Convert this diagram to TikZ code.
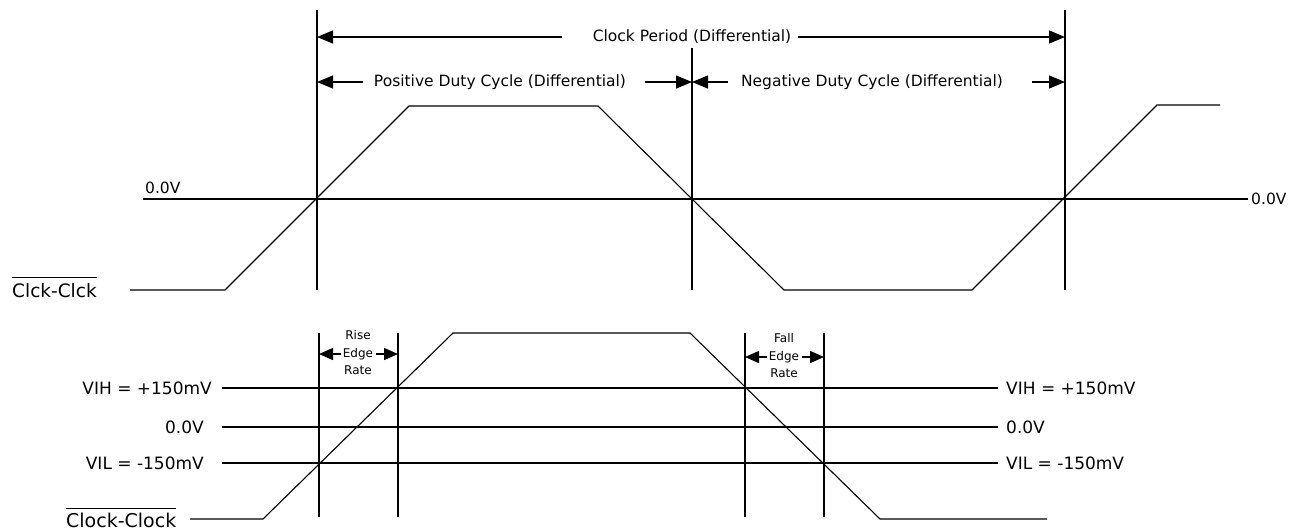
\documentclass[tikz,border=0pt]{standalone}
\usepackage{fontspec}
\setmainfont{DejaVu Sans}
\usetikzlibrary{arrows.meta}
\begin{document}
\begin{tikzpicture}[x=1pt,y=-1pt,
  ln/.style={line width=1.4pt},
  wave/.style={line width=1.1pt, line join=miter},
  arr/.style={line width=1.4pt,-{Triangle[length=16pt,width=13pt]}},
  sarr/.style={line width=1.4pt,-{Triangle[length=14pt,width=12pt]}},
  lbl/.style={inner sep=0pt, font=\fontsize{15.5}{18}\selectfont},
  big/.style={inner sep=0pt, font=\fontsize{17}{20}\selectfont},
  huge/.style={inner sep=0pt, font=\fontsize{18.5}{22}\selectfont},
  tiny/.style={inner sep=0pt, align=center, font=\fontsize{12}{17.5}\selectfont}]
\useasboundingbox (0,0) rectangle (1303,531);

% ---------------- top diagram ----------------
% vertical reference lines
\coordinate (v1t) at (317,10);  \coordinate (v1b) at (317,290);
\coordinate (v2t) at (692,48);  \coordinate (v2b) at (692,290);
\coordinate (v3t) at (1065,10); \coordinate (v3b) at (1065,290);
\draw[ln] (v1t) -- (v1b);
\draw[ln] (v2t) -- (v2b);
\draw[ln] (v3t) -- (v3b);

% clock period
\node[lbl] (cp) at (692,37) {Clock Period (Differential)};
\coordinate (cpL) at (562,37); \coordinate (cpLe) at (317,37);
\coordinate (cpR) at (798,37); \coordinate (cpRe) at (1065,37);
\draw[arr] (cpL) -- (cpLe);
\draw[arr] (cpR) -- (cpRe);

% positive duty cycle
\node[lbl] (pd) at (500,82) {Positive Duty Cycle (Differential)};
\coordinate (pdL) at (363,82); \coordinate (pdLe) at (317,82);
\coordinate (pdR) at (645,82); \coordinate (pdRe) at (692,82);
\draw[arr] (pdL) -- (pdLe);
\draw[arr] (pdR) -- (pdRe);

% negative duty cycle
\node[lbl] (nd) at (872,82) {Negative Duty Cycle (Differential)};
\coordinate (ndL) at (728,82); \coordinate (ndLe) at (692,82);
\coordinate (ndR) at (1032,82); \coordinate (ndRe) at (1065,82);
\draw[arr] (ndL) -- (ndLe);
\draw[arr] (ndR) -- (ndRe);

% zero line
\coordinate (z0) at (143,199); \coordinate (z1) at (1248,199);
\draw[ln] (z0) -- (z1);
\node[lbl, anchor=south west] (zl) at (145,194) {0.0V};
\node[lbl, anchor=west] (zr) at (1251,199) {0.0V};

% waveform
\coordinate (w0) at (130,290);
\draw[wave] (w0) -- (225,290) -- (409,106) -- (598,106) -- (784,290)
  -- (972,290) -- (1157,105) -- (1220,105);

% Clck-Clck label
\node[huge, anchor=west] (ck1) at (12,291) {Clck-Clck};
\draw[line width=1pt] ([yshift=6pt]ck1.north west) -- ([yshift=6pt]ck1.north east);

% ---------------- bottom diagram ----------------
\coordinate (r1t) at (319,333); \coordinate (r1b) at (319,517);
\coordinate (r2t) at (398,333); \coordinate (r2b) at (398,517);
\coordinate (f1t) at (745,333); \coordinate (f1b) at (745,517);
\coordinate (f2t) at (824,333); \coordinate (f2b) at (824,517);
\draw[ln] (r1t) -- (r1b);
\draw[ln] (r2t) -- (r2b);
\draw[ln] (f1t) -- (f1b);
\draw[ln] (f2t) -- (f2b);

% threshold lines
\coordinate (hL) at (222,388); \coordinate (hR) at (998,388);
\coordinate (oL) at (222,427); \coordinate (oR) at (998,427);
\coordinate (lL) at (222,463); \coordinate (lR) at (998,463);
\draw[ln] (hL) -- (hR);
\draw[ln] (oL) -- (oR);
\draw[ln] (lL) -- (lR);

\node[big, anchor=east] (vihl) at (212,388) {VIH = +150mV};
\node[big, anchor=east] (zbl) at (204,427) {0.0V};
\node[big, anchor=east] (vill) at (204,463) {VIL = -150mV};
\node[big, anchor=west] (vihr) at (1006,388) {VIH = +150mV};
\node[big, anchor=west] (zbr) at (1006,427) {0.0V};
\node[big, anchor=west] (vilr) at (1006,463) {VIL = -150mV};

% bottom waveform
\coordinate (u0) at (190,519);
\draw[wave] (u0) -- (263,519) -- (453,333) -- (690,333) -- (880,519) -- (1047,519);

% Clock-Clock label
\node[huge, font=\fontsize{19}{22}\selectfont, anchor=west] (ck2) at (66,520) {Clock-Clock};
\draw[line width=1pt] ([yshift=4pt]ck2.north west) -- ([yshift=4pt]ck2.north east);

% rise edge rate
\node[tiny] (rise) at (358,353) {Rise\\Edge\\Rate};
\coordinate (reL) at (341,354); \coordinate (reLe) at (319,354);
\coordinate (reR) at (376,354); \coordinate (reRe) at (398,354);
\draw[sarr] (reL) -- (reLe);
\draw[sarr] (reR) -- (reRe);

% fall edge rate
\node[tiny] (fall) at (784,356) {Fall\\Edge\\Rate};
\coordinate (feL) at (767,357); \coordinate (feLe) at (745,357);
\coordinate (feR) at (802,357); \coordinate (feRe) at (824,357);
\draw[sarr] (feL) -- (feLe);
\draw[sarr] (feR) -- (feRe);
\end{tikzpicture}
\end{document}
